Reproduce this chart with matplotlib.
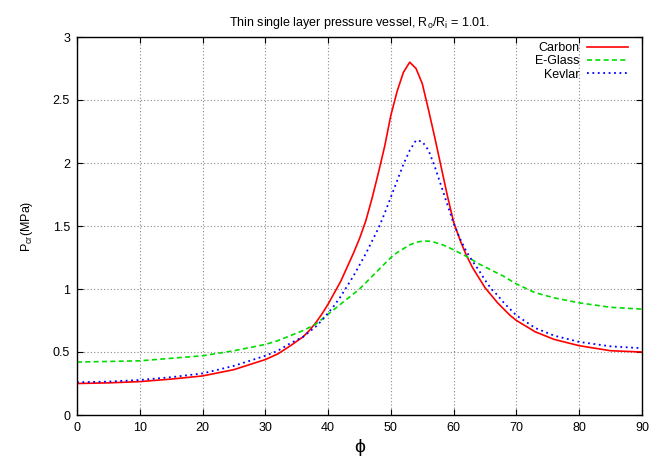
import matplotlib
matplotlib.use("Agg")
import matplotlib.pyplot as plt

plt.rcParams['font.family'] = ['Liberation Sans', 'DejaVu Sans']
plt.rcParams['mathtext.fontset'] = 'custom'
plt.rcParams['mathtext.rm'] = 'Liberation Sans'
plt.rcParams['mathtext.it'] = 'Liberation Sans:italic'
plt.rcParams['mathtext.bf'] = 'Liberation Sans:bold'

phi = [0, 5, 10, 15, 20, 25, 30, 32, 34,
       36, 37, 38, 39, 40, 41, 42, 43, 44, 45, 46, 47, 48, 49, 50, 51, 52, 53,
       54, 55, 56, 57, 58, 59, 60, 61, 62, 63, 64, 65, 66, 67, 68, 69, 70,
       73, 76, 80, 85, 90]

carbon = [0.25, 0.255, 0.265, 0.285, 0.31, 0.36, 0.44, 0.485, 0.55,
          0.62, 0.67, 0.73, 0.80, 0.88, 0.97, 1.06, 1.17, 1.28, 1.40, 1.54, 1.72,
          1.92, 2.13, 2.38, 2.57, 2.72, 2.80,
          2.75, 2.63, 2.42, 2.20, 1.97, 1.74, 1.53, 1.39, 1.27, 1.17, 1.09, 1.01,
          0.95, 0.89, 0.84, 0.79, 0.75,
          0.66, 0.60, 0.55, 0.51, 0.50]

eglass = [0.42, 0.425, 0.43, 0.45, 0.47, 0.51, 0.56, 0.59, 0.63,
          0.67, 0.695, 0.72, 0.76, 0.80, 0.84, 0.88, 0.92, 0.96, 1.00, 1.05, 1.10,
          1.15, 1.20, 1.25, 1.29, 1.32, 1.35,
          1.37, 1.38, 1.38, 1.37, 1.355, 1.335, 1.31, 1.285, 1.26, 1.23, 1.20, 1.175,
          1.15, 1.125, 1.10, 1.07, 1.04,
          0.97, 0.93, 0.89, 0.855, 0.84]

kevlar = [0.26, 0.265, 0.278, 0.30, 0.33, 0.39, 0.47, 0.51, 0.57,
          0.62, 0.66, 0.70, 0.75, 0.81, 0.87, 0.94, 1.02, 1.10, 1.19, 1.28, 1.38,
          1.48, 1.60, 1.73, 1.86, 1.99, 2.10,
          2.18, 2.17, 2.10, 1.97, 1.82, 1.67, 1.52, 1.40, 1.30, 1.22, 1.15, 1.07,
          1.00, 0.95, 0.89, 0.84, 0.79,
          0.69, 0.63, 0.58, 0.545, 0.53]

xticks = [0, 10, 20, 30, 40, 50, 60, 70, 80, 90]
yticks = [0, 0.5, 1, 1.5, 2, 2.5, 3]
ytick_labels = ['0', '0.5', '1', '1.5', '2', '2.5', '3']

fig = plt.figure(figsize=(6.65, 4.57), dpi=100)
ax = fig.add_axes([77/665, 1-415/457, (642-77)/665, (415-37)/457])

ax.plot(phi, carbon, color='#ff0000', lw=1.2, ls='-', label='Carbon')
ax.plot(phi, eglass, color='#00dd00', lw=1.2, ls=(0, (3, 2)), label='E-Glass')
ax.plot(phi, kevlar, color='#0000ff', lw=1.3, ls=(0, (1, 2)), label='Kevlar')

ax.set_xlim(0, 90)
ax.set_ylim(0, 3)
ax.set_xticks(xticks)
ax.set_xticklabels([str(v) for v in xticks])
ax.set_yticks(yticks)
ax.set_yticklabels(ytick_labels)
ax.tick_params(direction='in', top=True, right=True, labelsize=9, length=4, width=0.8, pad=5)
ax.grid(True, color='#888888', ls=(0, (1, 2)), lw=0.8)
for s in ax.spines.values():
    s.set_linewidth(1.0)

ax.set_title(r'Thin single layer pressure vessel, R$_\mathrm{o}$/R$_\mathrm{i}$ = 1.01.', fontsize=9, pad=8)
ax.set_ylabel(r'P$_\mathrm{cr}$(MPa)', fontsize=9, labelpad=13)
ax.set_xlabel('ϕ', fontsize=14, labelpad=4)

leg = ax.legend(loc='upper right', bbox_to_anchor=(1 - 9/565, 1.0), markerfirst=False,
                frameon=False, fontsize=9, handlelength=3.3, handletextpad=0.6,
                labelspacing=0.1, borderaxespad=0.0)
for col in leg._legend_handle_box.get_children():
    col.align = 'right'

fig.savefig('out.png', dpi=100)
